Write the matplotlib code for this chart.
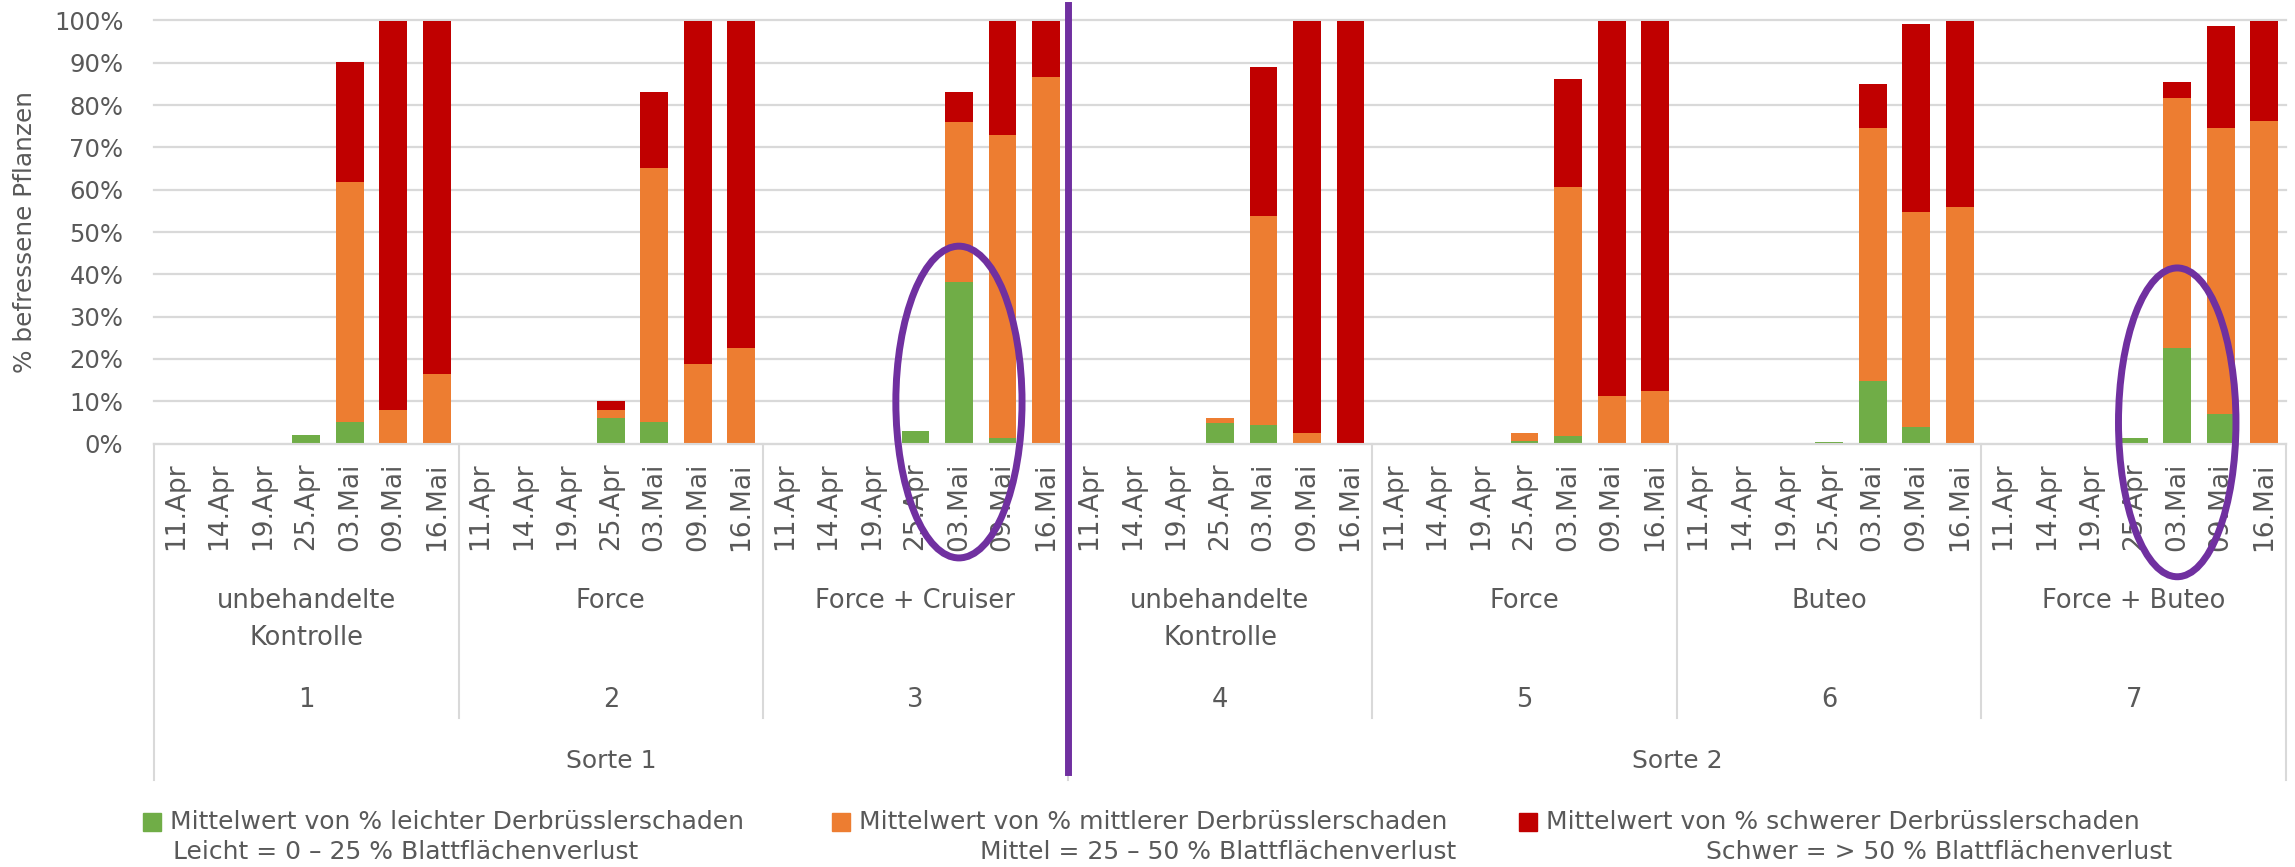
import numpy as np
import matplotlib
matplotlib.use("Agg")
import matplotlib.pyplot as plt
import matplotlib.transforms as mtransforms
from matplotlib.patches import Ellipse, Rectangle
from matplotlib.lines import Line2D

# ---------------- data ----------------
dates = ["11.Apr", "14.Apr", "19.Apr", "25.Apr", "03.Mai", "09.Mai", "16.Mai"]
treatments = ["unbehandelte\nKontrolle", "Force", "Force + Cruiser",
              "unbehandelte\nKontrolle", "Force", "Buteo", "Force + Buteo"]
treatment_nums = ["1", "2", "3", "4", "5", "6", "7"]
sorten = ["Sorte 1", "Sorte 2"]
treatments_per_sorte = [3, 4]

# % leichter Derbrüsslerschaden (7 dates per treatment)
leicht = [0, 0, 0, 2.1, 5.0, 0, 0,
          0, 0, 0, 6.1, 5.1, 0, 0,
          0, 0, 0, 3.0, 38.1, 1.2, 0,
          0, 0, 0, 4.9, 4.4, 0, 0,
          0, 0, 0, 0.7, 1.7, 0, 0,
          0, 0, 0, 0.4, 14.7, 3.9, 0,
          0, 0, 0, 1.4, 22.6, 7.0, 0]
# % mittlerer Derbrüsslerschaden
mittel = [0, 0, 0, 0, 56.8, 7.9, 16.5,
          0, 0, 0, 1.9, 60.0, 18.8, 22.6,
          0, 0, 0, 0, 38.0, 71.8, 86.6,
          0, 0, 0, 1.2, 49.5, 2.5, 0,
          0, 0, 0, 1.8, 58.9, 11.3, 12.5,
          0, 0, 0, 0, 59.9, 50.8, 56.0,
          0, 0, 0, 0, 59.0, 67.5, 76.3]
# % schwerer Derbrüsslerschaden
schwer = [0, 0, 0, 0, 28.5, 92.1, 83.5,
          0, 0, 0, 2.0, 18.0, 81.2, 77.4,
          0, 0, 0, 0, 7.1, 27.0, 13.4,
          0, 0, 0, 0, 35.1, 97.5, 100.0,
          0, 0, 0, 0, 25.5, 88.7, 87.5,
          0, 0, 0, 0, 10.4, 44.4, 44.0,
          0, 0, 0, 0, 3.8, 24.2, 23.7]

legend_titles = ["Mittelwert von % leichter Derbrüsslerschaden",
                 "Mittelwert von % mittlerer Derbrüsslerschaden",
                 "Mittelwert von % schwerer Derbrüsslerschaden"]
legend_notes = ["Leicht = 0 \u2013 25 % Blattflächenverlust",
                "Mittel = 25 \u2013 50 % Blattflächenverlust",
                "Schwer = > 50 % Blattflächenverlust"]
yticks = list(range(0, 101, 10))

# ---------------- style ----------------
GREEN, ORANGE, RED = "#70AD47", "#ED7D31", "#C00000"
PURPLE = "#7030A0"
TXT = "#595959"
GRID = "#D9D9D9"
plt.rcParams["font.family"] = ["DejaVu Sans"]

W, H = 2295, 867
fig = plt.figure(figsize=(W / 100, H / 100), dpi=100)


def fx(px):
    return px / W


def fy(py):
    return 1 - py / H


ax = fig.add_axes([fx(154), fy(443.5), (2286 - 154) / W, (443.5 - 20.5) / H])

n_dates = len(dates)
n_groups = len(treatments)
x = np.arange(n_dates * n_groups)
l = np.array(leicht)
m = np.array(mittel)
s = np.array(schwer)

bw = 0.64
ax.bar(x, l, width=bw, color=GREEN, zorder=2)
ax.bar(x, m, width=bw, bottom=l, color=ORANGE, zorder=2)
ax.bar(x, s, width=bw, bottom=l + m, color=RED, zorder=2)

ax.set_xlim(-0.5, len(x) - 0.5)
ax.set_ylim(0, 100)
ax.set_yticks(yticks)
ax.set_yticklabels([f"{t}%" for t in yticks])
ax.tick_params(axis="y", length=0, pad=22, labelsize=17.5, labelcolor=TXT)
ax.set_xticks(x)
ax.set_xticklabels(dates * n_groups, rotation=90)
ax.tick_params(axis="x", length=0, pad=13.5, labelsize=19, labelcolor=TXT)

for sp in ["top", "left", "right"]:
    ax.spines[sp].set_visible(False)
ax.spines["bottom"].set_color(GRID)
ax.spines["bottom"].set_linewidth(1.5)
ax.yaxis.grid(True, color=GRID, linewidth=1.6)
ax.set_axisbelow(True)
for gl in ax.get_ygridlines():
    gl.set_clip_on(False)

# y-axis title
fig.text(fx(25), fy(232), "% befressene Pflanzen", rotation=90, ha="center",
         va="center", fontsize=17.8, color=TXT)

trans = mtransforms.blended_transform_factory(ax.transData, fig.transFigure)

# treatment names and numbers
for i, name in enumerate(treatments):
    cx = i * n_dates + (n_dates - 1) / 2
    for j, line in enumerate(name.split("\n")):
        ax.text(cx, fy(601 + 37 * j), line, transform=trans, ha="center",
                va="center", fontsize=18.5, color=TXT)
    ax.text(cx, fy(700), treatment_nums[i], transform=trans, ha="center",
            va="center", fontsize=18.5, color=TXT)

# Sorte labels
start = 0
outer = [-0.5]
for name, cnt in zip(sorten, treatments_per_sorte):
    a = start * n_dates - 0.5
    b = (start + cnt) * n_dates - 0.5
    ax.text((a + b) / 2, fy(761), name, transform=trans, ha="center",
            va="center", fontsize=18, color=TXT)
    start += cnt
    outer.append(b)

# separators
for g in range(1, n_groups):
    bx = g * n_dates - 0.5
    if bx in outer:
        continue
    fig.add_artist(Line2D([bx, bx], [fy(443.5), fy(718)], transform=trans,
                          color=GRID, linewidth=1.5))
for bx in outer:
    fig.add_artist(Line2D([bx, bx], [fy(443.5), fy(780)], transform=trans,
                          color=GRID, linewidth=1.5))

# purple divider between Sorte 1 and Sorte 2
div_x = outer[1]
fig.add_artist(Line2D([div_x, div_x], [fy(5), fy(772)], transform=trans,
                      color=PURPLE, linewidth=5, zorder=20))

# purple ellipses around the 03.Mai bars of treatments 3 and 7
for grp, cy, w, h in [(2, 9.8, 2.9, 73.7), (6, 5.0, 2.7, 73.0)]:
    ex = grp * n_dates + dates.index("03.Mai")
    ax.add_patch(Ellipse((ex, cy), width=w, height=h, fill=False,
                         edgecolor=PURPLE, linewidth=5, clip_on=False,
                         zorder=20))

# legend (manual)
colors = [GREEN, ORANGE, RED]
sq_x = [143, 832, 1519]
t1_x = [170, 859, 1546]
for k in range(3):
    fig.add_artist(Rectangle((fx(sq_x[k]), fy(831)), 18 / W, 18 / H,
                             transform=fig.transFigure, color=colors[k]))
    fig.text(fx(t1_x[k]), fy(822), legend_titles[k], ha="left", va="center",
             fontsize=18, color=TXT)
fig.text(fx(173), fy(852), legend_notes[0], ha="left", va="center",
         fontsize=18, color=TXT)
fig.text(fx(1456), fy(852), legend_notes[1], ha="right", va="center",
         fontsize=18, color=TXT)
fig.text(fx(2172), fy(852), legend_notes[2], ha="right", va="center",
         fontsize=18, color=TXT)

fig.savefig("out.png", dpi=100, facecolor="white")
